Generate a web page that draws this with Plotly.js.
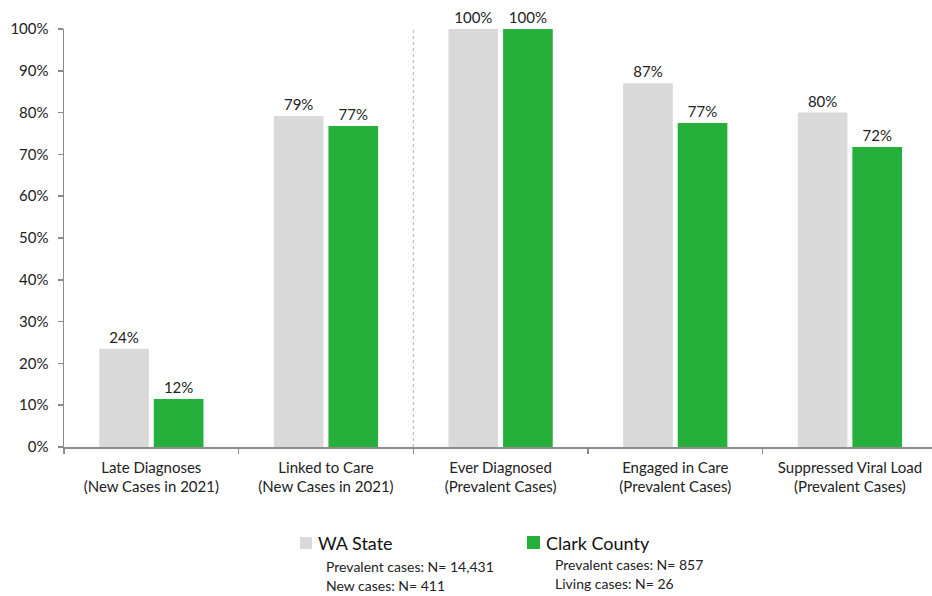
<!DOCTYPE html>
<html>
<head>
<meta charset="utf-8">
<script src="https://cdn.plot.ly/plotly-3.0.1.min.js"></script>
<style>html,body{margin:0;padding:0;background:#fff;}#chart{width:932px;height:596px;}</style>
</head>
<body>
<div id="chart"></div>
<script>
var categories = [
  "Late Diagnoses<br>(New Cases in 2021)",
  "Linked to Care<br>(New Cases in 2021)",
  "Ever Diagnosed<br>(Prevalent Cases)",
  "Engaged in Care<br>(Prevalent Cases)",
  "Suppressed Viral Load<br>(Prevalent Cases)"
];
var waValues = [23.5, 79.2, 100, 87, 80];
var waLabels = ["24%", "79%", "100%", "87%", "80%"];
var clarkValues = [11.5, 76.8, 100, 77.5, 71.8];
var clarkLabels = ["12%", "77%", "100%", "77%", "72%"];
var seriesNames = ["WA State", "Clark County"];
var waNotes = ["Prevalent cases: N= 14,431", "New cases: N= 411"];
var clarkNotes = ["Prevalent cases: N= 857", "Living cases: N= 26"];
var yTicks = [0,10,20,30,40,50,60,70,80,90,100];
var yTickText = ["0%","10%","20%","30%","40%","50%","60%","70%","80%","90%","100%"];

var FONT = "Lato, 'Open Sans', sans-serif";
var GRAY = "#d9d9d9", GREEN = "#24b03a";

var traces = [
  {type:"bar", name:seriesNames[0], x:categories, y:waValues, text:waLabels,
   textposition:"outside", textfont:{family:FONT,size:15,color:"#222"},
   marker:{color:GRAY}, cliponaxis:false, hoverinfo:"skip", showlegend:false},
  {type:"bar", name:seriesNames[1], x:categories, y:clarkValues, text:clarkLabels,
   textposition:"outside", textfont:{family:FONT,size:15,color:"#222"},
   marker:{color:GREEN}, cliponaxis:false, hoverinfo:"skip", showlegend:false}
];

var L = 64, W = 868, T = 29, H = 418;
function px(xp){ return (xp - L) / W; }
function py(yp){ return (T + H - yp) / H; }

var shapes = [
  {type:"line", xref:"x", yref:"y", x0:1.5, x1:1.5, y0:-4.3, y1:100.5,
   line:{color:"#b0b0b0", width:1, dash:"dot"}},
  {type:"rect", xref:"paper", yref:"paper", x0:px(300), x1:px(312), y0:py(549), y1:py(537),
   fillcolor:GRAY, line:{width:0}},
  {type:"rect", xref:"paper", yref:"paper", x0:px(527), x1:px(540), y0:py(549), y1:py(536),
   fillcolor:GREEN, line:{width:0}}
];

var annotations = [
  {xref:"paper", yref:"paper", x:px(316), y:py(543), xanchor:"left", yanchor:"middle",
   text:seriesNames[0], showarrow:false, font:{family:FONT,size:18,color:"#111"}},
  {xref:"paper", yref:"paper", x:px(544), y:py(543), xanchor:"left", yanchor:"middle",
   text:seriesNames[1], showarrow:false, font:{family:FONT,size:18,color:"#111"}},
  {xref:"paper", yref:"paper", x:px(324), y:py(566), xanchor:"left", yanchor:"middle",
   text:waNotes[0], showarrow:false, font:{family:FONT,size:14,color:"#222"}},
  {xref:"paper", yref:"paper", x:px(324), y:py(585), xanchor:"left", yanchor:"middle",
   text:waNotes[1], showarrow:false, font:{family:FONT,size:14,color:"#222"}},
  {xref:"paper", yref:"paper", x:px(553), y:py(564), xanchor:"left", yanchor:"middle",
   text:clarkNotes[0], showarrow:false, font:{family:FONT,size:14,color:"#222"}},
  {xref:"paper", yref:"paper", x:px(553), y:py(583), xanchor:"left", yanchor:"middle",
   text:clarkNotes[1], showarrow:false, font:{family:FONT,size:14,color:"#222"}}
];

var layout = {
  width:932, height:596,
  margin:{l:L, r:0, t:T, b:596-T-H, pad:0},
  paper_bgcolor:"#fff", plot_bgcolor:"#fff",
  font:{family:FONT, size:15, color:"#222"},
  barmode:"group", bargap:0.375, bargroupgap:0.09,
  showlegend:false,
  xaxis:{type:"category", range:[-0.5, 4.47], showgrid:false, zeroline:false,
    showline:true, linecolor:"#8c8c8c", linewidth:1.5,
    ticks:"outside", tickson:"boundaries", ticklen:5, tickcolor:"#8c8c8c", tickwidth:1.5,
    tickfont:{family:FONT,size:15,color:"#222"}, ticklabelstandoff:6, fixedrange:true},
  yaxis:{range:[0,100], tickvals:yTicks, ticktext:yTickText, showgrid:false, zeroline:false,
    showline:true, linecolor:"#8c8c8c", linewidth:1.5,
    ticks:"outside", ticklen:5, tickcolor:"#8c8c8c", tickwidth:1.5,
    tickfont:{family:FONT,size:15,color:"#222"}, ticklabelstandoff:6, fixedrange:true},
  shapes:shapes, annotations:annotations
};

Plotly.newPlot("chart", traces, layout, {displayModeBar:false, staticPlot:true});
</script>
</body>
</html>
